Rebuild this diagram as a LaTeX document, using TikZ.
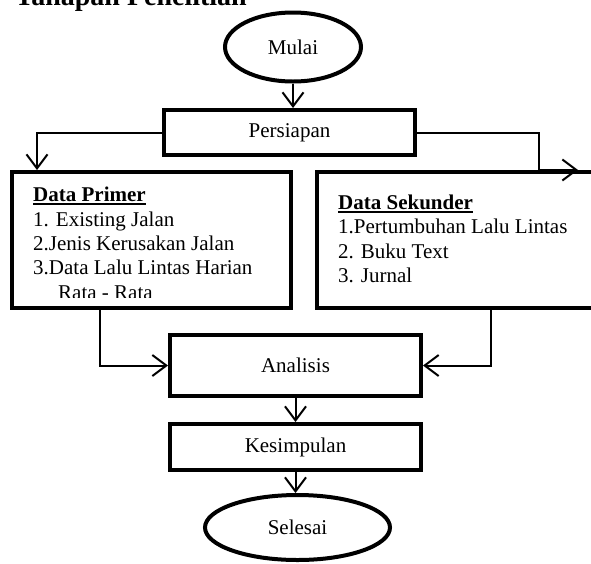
\documentclass[tikz,border=0pt]{standalone}
\usepackage{fontspec}
\setmainfont{Liberation Serif}
\usetikzlibrary{arrows.meta,shapes.geometric,calc}
\begin{document}
\begin{tikzpicture}[x=1pt,y=-1pt,
  font=\fontsize{21}{24}\selectfont,
  term/.style={ellipse,draw,line width=4pt,inner sep=0pt},
  box/.style={rectangle,draw,line width=4pt,inner sep=0pt},
  txt/.style={anchor=base west,inner sep=0pt},
  arr/.style={line width=2pt,-{Straight Barb[length=14pt,width=21pt,line width=2pt]}},
  con/.style={line width=2pt}]
\clip (0,0) rectangle (591,563);
\fill[white] (0,0) rectangle (591,563);
% title (clipped at top)
\node[txt,font=\fontsize{28}{32}\selectfont\bfseries] (title) at (15,5) {Tahapan Penelitian};
% shapes
\node[term,minimum width=136pt,minimum height=69pt] (mulai) at (293,47) {Mulai};
\node[box,minimum width=251pt,minimum height=45pt] (persiapan) at (289.5,132.5) {Persiapan};
\node[box,minimum width=279pt,minimum height=136pt] (primer) at (151.5,240) {};
\node[box,minimum width=300pt,minimum height=136pt] (sekunder) at (467,240) {};
\node[box,minimum width=251pt,minimum height=61pt] (analisis) at (295.5,365.5) {Analisis};
\node[box,minimum width=251pt,minimum height=46pt] (kesimpulan) at (295.5,447) {Kesimpulan};
\node[term,minimum width=185pt,minimum height=65pt] (selesai) at (297.5,527.5) {Selesai};
% Data Primer text
\node[txt,font=\fontsize{21}{24}\selectfont\bfseries] (p0) at (33,201) {Data Primer};
\draw[line width=1.6pt] ($(p0.base west)+(0,3)$) -- ($(p0.base east)+(0,3)$);
\node[txt] (p1) at (33,226) {1. Existing Jalan};
\node[txt] (p2) at (33,250) {2.Jenis Kerusakan Jalan};
\node[txt] (p3) at (33,274) {3.Data Lalu Lintas Harian};
\begin{scope}
\clip (14,280) rectangle (289,297.5);
\node[txt] (p4) at (58,299) {Rata - Rata};
\end{scope}
% Data Sekunder text
\node[txt,font=\fontsize{21}{24}\selectfont\bfseries] (s0) at (338,209) {Data Sekunder};
\draw[line width=1.6pt] ($(s0.base west)+(0,3)$) -- ($(s0.base east)+(0,3)$);
\node[txt] (s1) at (338,233) {1.Pertumbuhan Lalu Lintas};
\node[txt] (s2) at (338,258) {2. Buku Text};
\node[txt] (s3) at (338,282) {3. Jurnal};
% connectors
\draw[arr] (mulai.south) -- (mulai.south |- persiapan.north);
\draw[arr] (persiapan.west) -| ($(primer.north west)+(27,0)$);
\coordinate (rc) at (539,170);
\coordinate (rt) at (578,170);
\draw[arr] (persiapan.east) -| (rc) -- (rt);
\coordinate (pb) at (100,310);
\coordinate (sb) at (491,310);
\draw[arr] (pb) |- (analisis.west);
\draw[arr] (sb) |- (analisis.east);
\draw[arr] (analisis.south) -- (kesimpulan.north);
\draw[arr] (kesimpulan.south) -- (kesimpulan.south |- selesai.north);
\end{tikzpicture}
\end{document}
